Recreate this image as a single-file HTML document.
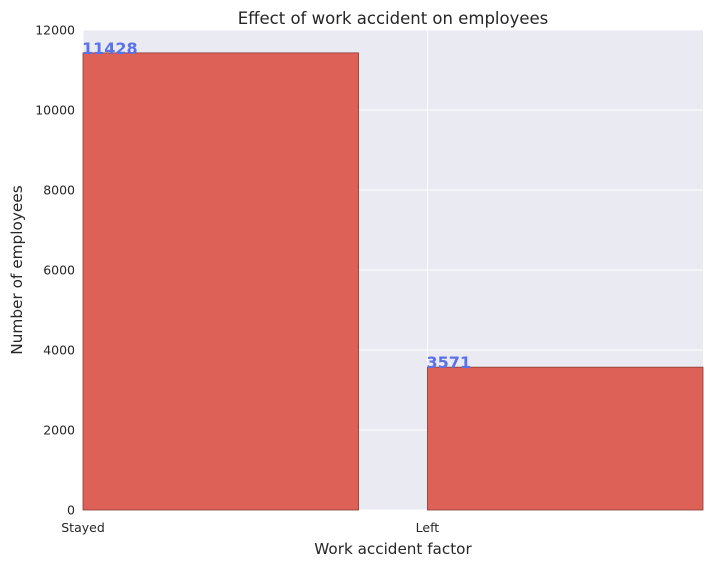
<!DOCTYPE html>
<html><head><meta charset="utf-8"><style>
body{margin:0;background:#fff;}
svg text{font-family:"DejaVu Sans","Liberation Sans",sans-serif;fill:#262626;}
</style></head><body>
<svg id="chart" width="713" height="566" xmlns="http://www.w3.org/2000/svg">
<rect x="83" y="30" width="620" height="480" fill="#eaeaf2"/>
<g id="grid"></g>
<g id="bars"></g>
<g id="ticks"></g>
<text x="393" y="24" text-anchor="middle" font-size="16.5">Effect of work accident on employees</text>
<text x="393" y="554" text-anchor="middle" font-size="15.2">Work accident factor</text>
<text x="22" y="270" text-anchor="middle" font-size="15.3" transform="rotate(-90 22 270)">Number of employees</text>
</svg>
<script>
const categories=["Stayed","Left"];
const values=[11428,3571];
const yTicks=[0,2000,4000,6000,8000,10000,12000];
const NS="http://www.w3.org/2000/svg";
const L=83,R=703,T=30,B=510,yMax=12000,xMax=1.8,barW=0.8;
const y=v=>B-(v/yMax)*(B-T);
const x=v=>L+(v/xMax)*(R-L);
function mk(tag,attrs,parent){const e=document.createElementNS(NS,tag);for(const k in attrs)e.setAttribute(k,attrs[k]);document.getElementById(parent).appendChild(e);return e;}
yTicks.forEach(t=>{
 const g=mk("line",{x1:L,x2:R,y1:y(t),y2:y(t),stroke:"#fff","stroke-width":1},"grid");
 
 
 const tx=mk("text",{x:L-8,y:y(t)+4.5,"text-anchor":"end","font-size":"12.5"},"ticks");
 tx.textContent=t;
 
 
});
categories.forEach((c,i)=>{
 const g=mk("line",{x1:x(i),x2:x(i),y1:T,y2:B,stroke:"#fff","stroke-width":1},"grid");
 
 
 const r=mk("rect",{x:x(i),y:y(values[i]),width:x(i+barW)-x(i),height:B-y(values[i]),fill:"#dd6157",stroke:"#8a3a34","stroke-width":0.8},"bars");
 
 
 const v=mk("text",{x:x(i)-1,y:y(values[i])+1,"font-size":"16","font-weight":"bold"},"bars");
 v.style.fill="#5a72e8";
 v.textContent=values[i];
 
 
 const tx=mk("text",{x:x(i),y:B+22,"text-anchor":"middle","font-size":"12.5"},"ticks");
 tx.textContent=c;
 
 
});
</script>
</body></html>
